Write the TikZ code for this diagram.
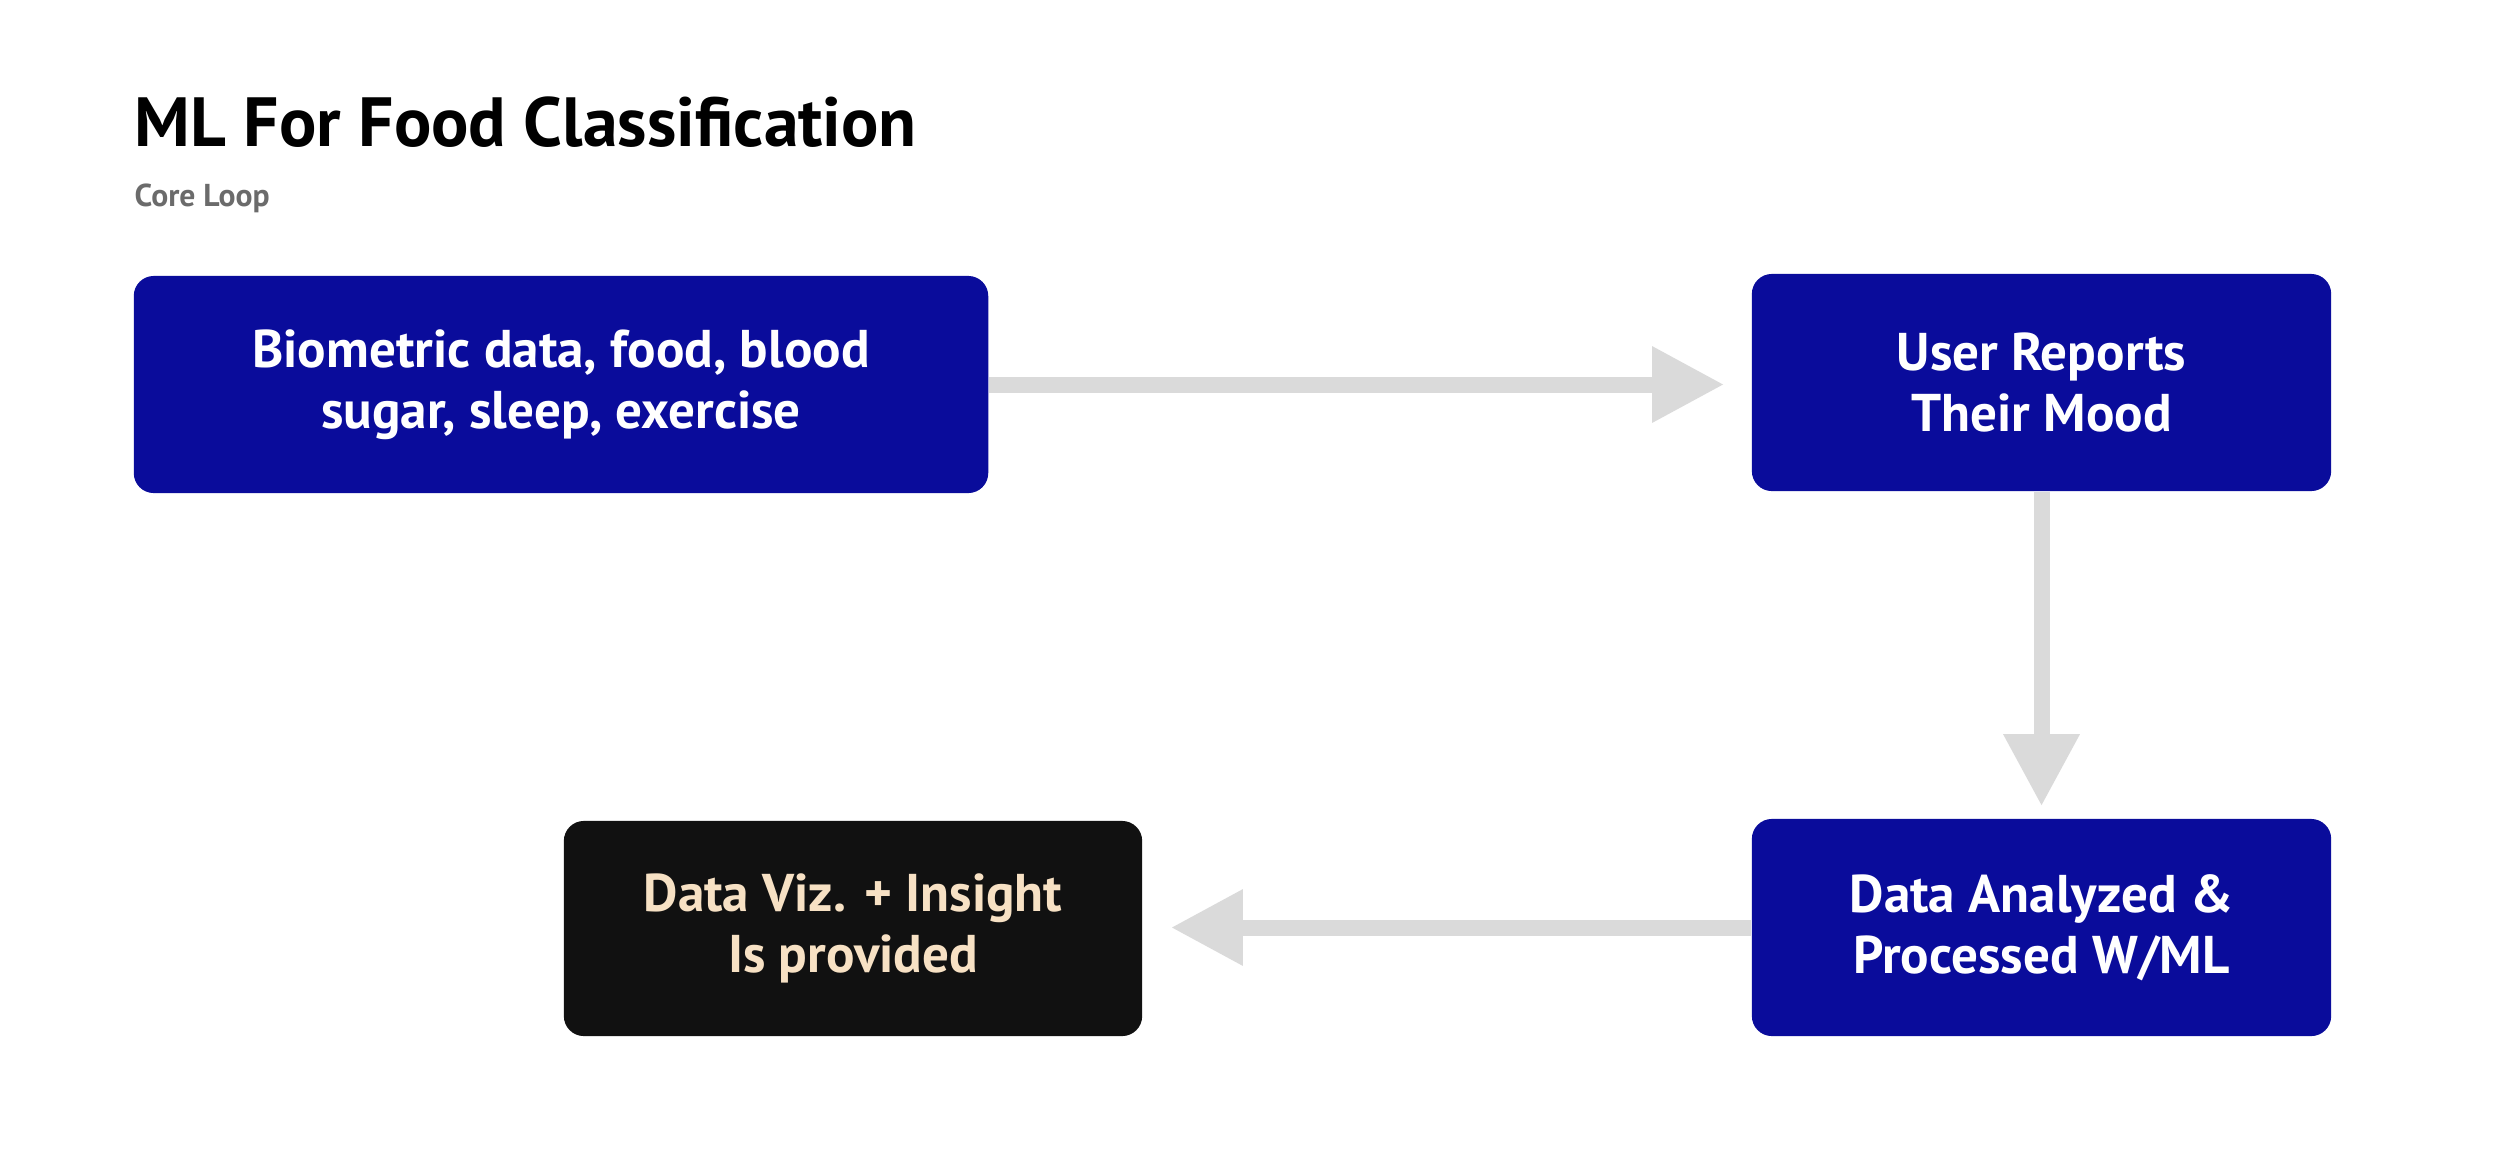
\documentclass[tikz,border=0pt]{standalone}
\usepackage{fontspec}
\setmainfont{PT Sans}
\usetikzlibrary{positioning, arrows.meta}

\definecolor{boxblue}{HTML}{0A0C9B}
\definecolor{boxblack}{HTML}{111111}
\definecolor{vizcream}{HTML}{F7E1C4}
\definecolor{loopgray}{HTML}{DADADA}
\definecolor{subgray}{HTML}{6B6B6B}

\tikzset{
  stepbox/.style={rounded corners=0.2cm, fill=boxblue, text=white, align=center,
    inner sep=0pt, minimum height=2.17cm, font=\fontsize{15.1}{17.2}\selectfont\bfseries},
  endbox/.style={stepbox, fill=boxblack, text=vizcream},
  loop/.style={draw=loopgray, line width=0.16cm,
    -{Triangle[length=0.72cm, width=0.72cm]}}
}

\begin{document}
\begin{tikzpicture}[x=0.01cm, y=-0.01cm]
  \useasboundingbox (0,0) rectangle (2500,1163);
  % heading
  \node[anchor=base west, inner sep=0pt, font=\fontsize{19.8}{24}\selectfont\bfseries] (title)
    at (134,146) {ML For Food Classification};
  \node[anchor=base west, inner sep=0pt, text=subgray, font=\fontsize{9}{11}\selectfont\bfseries] (sub)
    at (134,206) {Core Loop};
  % steps of the loop
  \node[stepbox, minimum width=8.54cm] (bio) at (561,384.5) {Biometric data, food, blood\\sugar, sleep, exercise};
  \node[stepbox, minimum width=5.79cm] (mood) at (2041.5,382.5) {User Reports\\Their Mood};
  \node[stepbox, minimum width=5.79cm] (ml) at (2041.5,927.5) {Data Analyzed \&\\Processed W/ML};
  \node[endbox, minimum width=5.78cm, minimum height=2.15cm] (viz) at (853,928.5) {Data Viz. + Insight\\Is provided};
  % connectors
  \draw[loop, shorten >=0.27cm] (bio) -- (bio -| mood.west);
  \draw[loop, shorten >=0.12cm] (mood) -- (ml);
  \draw[loop, shorten >=0.28cm] (ml.west) -- (viz.east |- ml.west);
\end{tikzpicture}
\end{document}
